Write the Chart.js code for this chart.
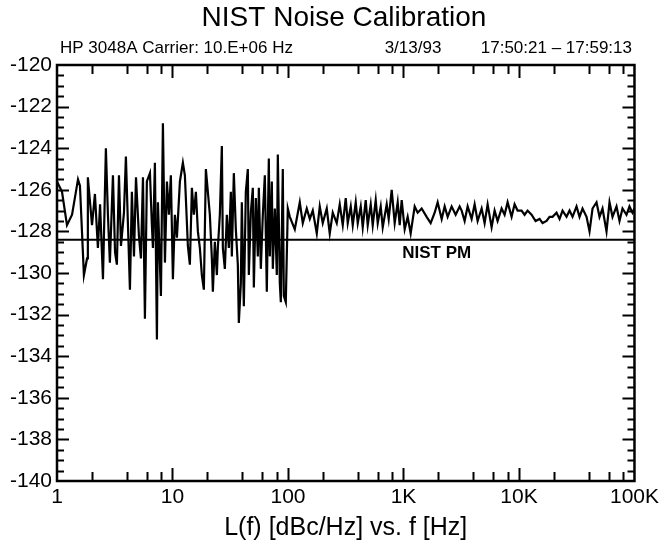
<!DOCTYPE html>
<html>
<head>
<meta charset="utf-8">
<title>NIST Noise Calibration</title>
<script src="https://cdn.jsdelivr.net/npm/chart.js@4.4.1/dist/chart.umd.min.js"></script>
<style>
  html, body { margin: 0; padding: 0; background: #fff; }
  canvas { display: block; }
</style>
</head>
<body>
<canvas id="chartId" width="663" height="555"></canvas>
<script>
// texts
var chartTitle = 'NIST Noise Calibration';
var headerLeft = 'HP 3048A Carrier: 10.E+06 Hz';
var headerDate = '3/13/93';
var headerTime = '17:50:21 \u2013 17:59:13';
var xAxisTitle = 'L(f) [dBc/Hz] vs. f [Hz]';
var nistLabel = 'NIST PM';

// axes
var xTickValues = [1, 10, 100, 1000, 10000, 100000];
var xTickLabels = ['1', '10', '100', '1K', '10K', '100K'];
var yTickValues = [-140, -138, -136, -134, -132, -130, -128, -126, -124, -122, -120];
var yTickLabels = ['-140', '-138', '-136', '-134', '-132', '-130', '-128', '-126', '-124', '-122', '-120'];

// NIST PM reference level
var nistLevel = -128.4;

var freqHz = [
    1.00, 1.105, 1.22, 1.35, 1.52, 1.58, 1.71, 1.82, 1.85, 2.01,
    2.13, 2.26, 2.36, 2.50, 2.65, 2.76, 2.87, 3.05, 3.18, 3.30,
    3.44, 3.58, 3.80, 3.95, 4.11, 4.28, 4.45, 4.64, 4.83, 5.12,
    5.33, 5.55, 5.77, 6.00, 6.38, 6.63, 6.77, 7.04, 7.33, 7.48,
    7.94, 8.26, 8.60, 8.95, 9.31,
    9.68, 10.08, 10.49, 10.92, 11.59, 12.30, 12.80, 13.59, 14.14, 14.72,
    15.31, 15.94, 16.59, 17.26, 17.96, 18.69, 19.45, 20.24, 21.06, 21.92,
    22.36, 23.27, 24.22, 24.70, 25.70, 26.75, 27.29, 28.40, 29.55, 30.75,
    32.00, 32.65, 33.97, 35.35, 36.79, 37.53, 39.06, 39.84, 41.46, 43.15,
    44.90, 45.81, 47.67, 49.61, 50.61, 52.67, 54.81, 55.91, 58.19, 60.55,
    63.01, 65.57, 68.24, 69.61, 72.44, 73.90, 76.90, 80.03, 81.64, 84.96,
    86.67, 90.16, 91.98, 95.72, 99.61,
    103.7, 114.5, 126.5, 134.3, 145.4, 154.4, 163.9, 177.5, 188.4, 200.0,
    216.6, 229.9, 244.1, 264.3, 280.6, 297.9, 316.2, 329.1, 349.4, 363.6,
    386.0, 401.7, 426.4, 443.7, 471.0, 490.2, 520.4, 541.5, 574.9, 598.3,
    635.1, 661.0, 715.7, 744.7, 790.6, 839.3, 890.9, 927.2, 964.8, 1024,
    1087, 1154, 1250, 1327, 1437, 1587, 1719, 1862, 1976, 2141,
    2272, 2412, 2612, 2829, 3064, 3188, 3384, 3593, 3890, 4130,
    4385, 4749, 5040, 5352, 5794, 6151, 6530, 7072, 7507, 7970,
    8630, 9161, 9725, 10530, 11180, 11870, 12850, 13920, 15080, 16000,
    17330, 18400, 19530, 21150, 22450, 23840, 25810, 27400, 29090, 31500,
    33440, 35500, 38450, 40810, 43330, 46920, 49810, 52880, 57260, 60790,
    64540, 69890, 74190, 78770, 85290, 90500, 96100, 100000
];
var levelDbc = [
    -125.6, -126.1, -127.7, -127.2, -125.5, -125.8, -130.1, -129.3, -125.4, -127.7,
    -126.2, -128.8, -126.7, -130.3, -124.0, -127.2, -129.5, -125.3, -129.0, -129.6,
    -125.3, -128.7, -127.1, -124.4, -127.6, -130.8, -126.1, -129.2, -125.4, -128.2,
    -129.3, -125.4, -132.2, -125.6, -125.2, -127.7, -128.8, -124.7, -133.2, -126.6,
    -131.1, -122.8, -129.5, -125.6, -127.2,
    -125.3, -130.3, -127.2, -128.3, -125.6, -124.7, -125.3, -128.7, -129.6, -125.9,
    -127.2, -126.1, -128.0, -128.8, -130.1, -130.8, -125.0, -126.1, -127.2, -129.3,
    -130.9, -128.5, -130.1, -128.8, -127.2, -123.9, -128.8, -129.8, -127.2, -128.8,
    -126.1, -129.2, -125.2, -127.9, -129.6, -132.4, -130.5, -126.6, -131.6, -126.1,
    -125.0, -130.1, -127.1, -125.9, -130.7, -126.4, -129.2, -125.9, -129.8, -127.2,
    -125.3, -130.9, -124.5, -129.2, -125.6, -129.8, -126.9, -130.1, -124.3, -130.5,
    -131.4, -125.0, -131.1, -131.4, -126.9,
    -127.3, -127.9, -126.6, -127.6, -126.9, -127.4, -127.0, -128.1, -126.8, -127.6,
    -126.9, -128.1, -127.1, -127.6, -126.7, -127.7, -126.4, -127.6, -126.8, -127.7,
    -126.6, -127.6, -126.8, -127.8, -126.5, -127.7, -126.7, -127.7, -126.5, -127.6,
    -126.8, -127.8, -126.7, -127.4, -126.0, -127.6, -126.6, -127.7, -126.5, -127.9,
    -127.3, -128.1, -126.8, -127.1, -126.9, -127.3, -127.6, -127.1, -126.6, -127.4,
    -126.8, -127.3, -126.8, -127.2, -126.8, -127.0, -127.5, -126.8, -127.4, -126.7,
    -127.5, -126.9, -127.6, -126.7, -127.8, -127.0, -127.5, -126.9, -127.2, -126.6,
    -127.3, -126.7, -127.0, -127.0, -127.2, -127.0, -127.2, -127.5, -127.4, -127.6,
    -127.5, -127.3, -127.3, -127.1, -127.4, -127.0, -127.3, -127.0, -127.3, -126.8,
    -127.3, -126.9, -127.3, -128.0, -126.9, -126.6, -127.3, -126.9, -128.0, -126.6,
    -127.3, -126.8, -127.5, -126.9, -127.2, -126.8, -127.1, -126.9
];

var fontFamily = "'Liberation Sans', Arial, Helvetica, sans-serif";
Chart.defaults.font.family = fontFamily;
Chart.defaults.color = '#000';

var noisePoints = freqHz.map(function (f, i) { return { x: f, y: levelDbc[i] }; });
var nistPoints = [{ x: xTickValues[0], y: nistLevel }, { x: xTickValues[xTickValues.length - 1], y: nistLevel }];

// box, inward tick marks and the loose texts
var framePlugin = {
    id: 'frame',
    afterDraw: function (chart) {
        var ctx = chart.ctx;
        var a = chart.chartArea;
        var x = chart.scales.x;
        var y = chart.scales.y;
        ctx.save();
        ctx.strokeStyle = '#000';
        ctx.lineWidth = 2.5;
        ctx.strokeRect(a.left, a.top, a.right - a.left, a.bottom - a.top);

        ctx.lineWidth = 2;
        ctx.beginPath();
        for (var v = -139.5; v < -120; v += 0.5) {
            var py = Math.round(y.getPixelForValue(v)) + 0.5;
            var len = (v % 2 === 0) ? 12 : 7;
            ctx.moveTo(a.left, py); ctx.lineTo(a.left + len, py);
            ctx.moveTo(a.right, py); ctx.lineTo(a.right - len, py);
        }
        for (var d = 1; d < 100000; d *= 10) {
            [2, 4, 6, 8, 10].forEach(function (m) {
                var f = d * m;
                if (f >= 100000) return;
                var px = Math.round(x.getPixelForValue(f)) + 0.5;
                var l = (m === 10) ? 13 : 9;
                ctx.moveTo(px, a.bottom); ctx.lineTo(px, a.bottom - l);
                ctx.moveTo(px, a.top); ctx.lineTo(px, a.top + l);
            });
        }
        ctx.stroke();

        ctx.fillStyle = '#000';
        ctx.textBaseline = 'middle';
        ctx.textAlign = 'center';
        ctx.font = '28px ' + fontFamily;
        ctx.fillText(chartTitle, 344, 18);

        ctx.font = '17px ' + fontFamily;
        ctx.textAlign = 'left';
        ctx.fillText(headerLeft, 60, 48);
        ctx.textAlign = 'center';
        ctx.fillText(headerDate, 413, 48);
        ctx.textAlign = 'right';
        ctx.fillText(headerTime, 632, 48);

        ctx.font = 'bold 17px ' + fontFamily;
        ctx.textAlign = 'center';
        ctx.fillText(nistLabel, x.getPixelForValue(1940), y.getPixelForValue(nistLevel) + 14);
        ctx.restore();
    }
};

var chrt = document.getElementById('chartId').getContext('2d');
var chartId = new Chart(chrt, {
    type: 'line',
    data: {
        datasets: [{
            label: 'L(f)',
            data: noisePoints,
            borderColor: '#000',
            borderWidth: 2.2,
            pointRadius: 0,
            tension: 0,
            fill: false
        }, {
            label: nistLabel,
            data: nistPoints,
            borderColor: '#000',
            borderWidth: 2,
            pointRadius: 0,
            fill: false
        }]
    },
    options: {
        responsive: false,
        animation: false,
        events: [],
        layout: {
            padding: { top: 65, right: 28, bottom: 0, left: 0 }
        },
        plugins: {
            legend: { display: false },
            tooltip: { enabled: false }
        },
        scales: {
            x: {
                type: 'logarithmic',
                min: 1,
                max: 100000,
                grid: { display: false, drawTicks: false },
                border: { display: false },
                afterBuildTicks: function (scale) {
                    scale.ticks = xTickValues.map(function (v) { return { value: v }; });
                },
                afterFit: function (scale) { scale.height = 74; },
                ticks: {
                    autoSkip: false,
                    maxRotation: 0,
                    padding: 4,
                    font: { size: 21 },
                    callback: function (value, index) { return xTickLabels[index]; }
                },
                title: {
                    display: true,
                    text: xAxisTitle,
                    font: { size: 25 },
                    padding: { top: 0, bottom: 12 }
                }
            },
            y: {
                type: 'linear',
                min: -140,
                max: -120,
                grid: { display: false, drawTicks: false },
                border: { display: false },
                afterBuildTicks: function (scale) {
                    scale.ticks = yTickValues.map(function (v) { return { value: v }; });
                },
                afterFit: function (scale) { scale.width = 57; },
                ticks: {
                    padding: 5,
                    font: { size: 21 },
                    callback: function (value, index) { return yTickLabels[index]; }
                }
            }
        }
    },
    plugins: [framePlugin]
});
</script>
</body>
</html>
